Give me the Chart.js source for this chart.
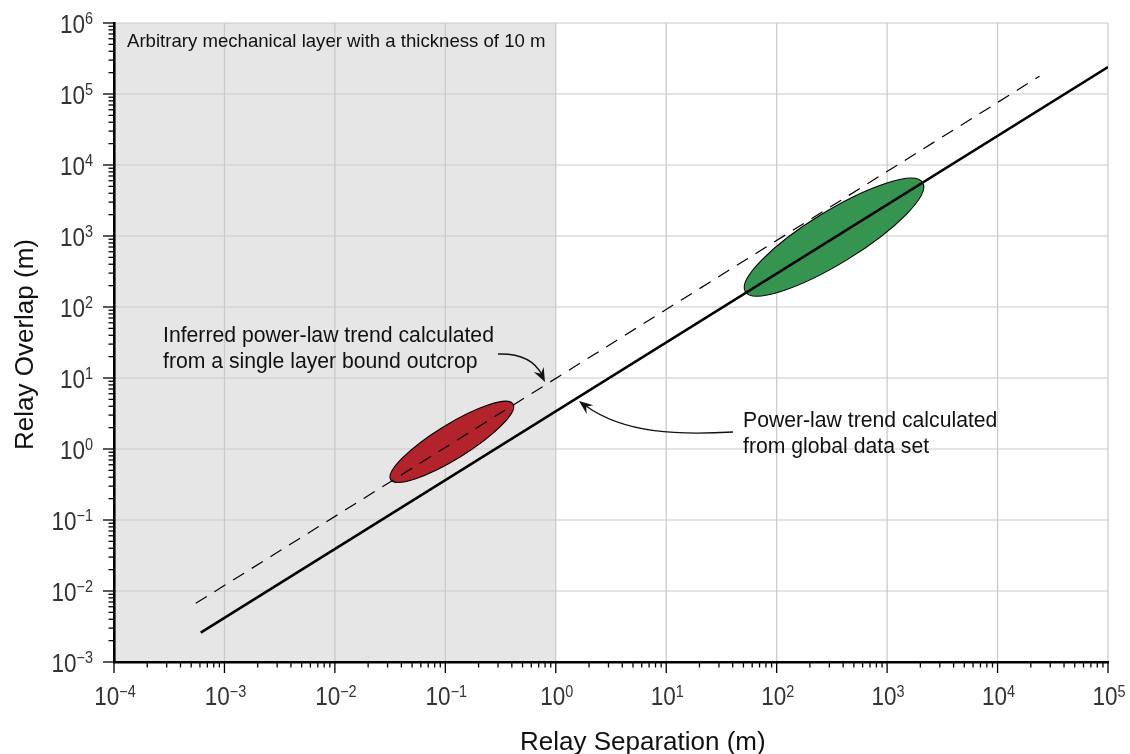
<!DOCTYPE html>
<html>
<head>
<meta charset="utf-8">
<script src="https://cdn.jsdelivr.net/npm/chart.js@4.4.1/dist/chart.umd.min.js"></script>
<style>
  html, body { margin: 0; padding: 0; background: #fff; }
  #wrap { width: 1130px; height: 754px; }
</style>
</head>
<body>
<div id="wrap"><canvas id="chart" width="1130" height="754"></canvas></div>
<script>
// --- Data ---
// decade exponents used for tick labels
const xExponents = [-4, -3, -2, -1, 0, 1, 2, 3, 4, 5];
const yExponents = [-3, -2, -1, 0, 1, 2, 3, 4, 5, 6];

// power-law trend from the global data set (solid)
const globalTrendX = [6.1e-4, 1e5];
const globalTrendY = [2.6e-3, 2.4e5];

// inferred trend from one layer bound outcrop (dashed)
const outcropTrendX = [5.5e-4, 2.4e4];
const outcropTrendY = [6.7e-3, 1.78e5];

// mechanical layer band along x
const layerBand = [1e-4, 1e0];

// data clouds, given by the two tips of each ellipse
const redCloudX = [0.032, 0.41];
const redCloudY = [0.37, 4.3];
const greenCloudX = [52, 2100];
const greenCloudY = [164, 5650];

// texts
const layerNote = 'Arbitrary mechanical layer with a thickness of 10 m';
const inferredNote = ['Inferred power-law trend calculated', 'from a single layer bound outcrop'];
const globalNote = ['Power-law trend calculated', 'from global data set'];
const xTitle = 'Relay Separation (m)';
const yTitle = 'Relay Overlap (m)';

const FONT = '"Liberation Sans", Arial, Helvetica, sans-serif';
const SQ = 0.9; // tick lettering is a bit narrower than Arial

function toPoints(xs, ys) {
    return xs.map((x, i) => ({ x, y: ys[i] }));
}

function drawPower(ctx, exp, x, y, align) {
    const base = '10';
    const sup = exp < 0 ? '\u2212' + Math.abs(exp) : String(exp);
    ctx.font = '25px ' + FONT;
    const wb = ctx.measureText(base).width * SQ;
    ctx.font = '16px ' + FONT;
    const ws = ctx.measureText(sup).width * SQ;
    const left = align === 'center' ? x - (wb + ws) / 2 : x - wb - ws;
    ctx.save();
    ctx.fillStyle = '#333';
    ctx.textAlign = 'left';
    ctx.textBaseline = 'alphabetic';
    ctx.translate(left, y);
    ctx.scale(SQ, 1);
    ctx.font = '25px ' + FONT;
    ctx.fillText(base, 0, 0);
    ctx.font = '16px ' + FONT;
    ctx.fillText(sup, wb / SQ, -8.5);
    ctx.restore();
}

function drawCloud(ctx, xs, ys, ratio, color, chart) {
    const sx = chart.scales.x, sy = chart.scales.y;
    const x1 = sx.getPixelForValue(xs[0]), y1 = sy.getPixelForValue(ys[0]);
    const x2 = sx.getPixelForValue(xs[1]), y2 = sy.getPixelForValue(ys[1]);
    const cx = (x1 + x2) / 2, cy = (y1 + y2) / 2;
    const a = Math.hypot(x2 - x1, y2 - y1) / 2;
    const ang = Math.atan2(y2 - y1, x2 - x1);
    ctx.save();
    ctx.beginPath();
    ctx.ellipse(cx, cy, a, a * ratio, ang, 0, Math.PI * 2);
    ctx.fillStyle = color;
    ctx.fill();
    ctx.lineWidth = 1.1;
    ctx.strokeStyle = '#000';
    ctx.stroke();
    ctx.restore();
}

function arrowHead(ctx, x, y, dx, dy) {
    const len = Math.hypot(dx, dy);
    const ux = dx / len, uy = dy / len;
    const L = 14, W = 5.5;
    ctx.beginPath();
    ctx.moveTo(x, y);
    ctx.lineTo(x - ux * L - uy * W, y - uy * L + ux * W);
    ctx.lineTo(x - ux * L * 0.65, y - uy * L * 0.65);
    ctx.lineTo(x - ux * L + uy * W, y - uy * L - ux * W);
    ctx.closePath();
    ctx.fill();
}

const backdrop = {
    id: 'backdrop',
    beforeDraw(chart) {
        const { ctx, chartArea: a, scales: { x, y } } = chart;
        ctx.save();
        // shaded layer
        const b0 = x.getPixelForValue(layerBand[0]);
        const b1 = x.getPixelForValue(layerBand[1]);
        ctx.fillStyle = '#e6e6e6';
        ctx.fillRect(b0, a.top, b1 - b0, a.bottom - a.top);
        // decade grid
        ctx.strokeStyle = '#c9c9c9';
        ctx.lineWidth = 1.2;
        xExponents.forEach(e => {
            const px = x.getPixelForValue(Math.pow(10, e));
            ctx.beginPath();
            ctx.moveTo(px, a.top);
            ctx.lineTo(px, a.bottom);
            ctx.stroke();
        });
        yExponents.forEach(e => {
            const py = y.getPixelForValue(Math.pow(10, e));
            ctx.beginPath();
            ctx.moveTo(a.left, py);
            ctx.lineTo(a.right, py);
            ctx.stroke();
        });
        ctx.restore();
    },
    beforeDatasetsDraw(chart) {
        const ctx = chart.ctx;
        drawCloud(ctx, redCloudX, redCloudY, 0.24, '#b2232b', chart);
        drawCloud(ctx, greenCloudX, greenCloudY, 0.25, '#359450', chart);
    },
    afterDraw(chart) {
        const { ctx, chartArea: a, scales: { x, y } } = chart;
        ctx.save();
        // tick marks, major and minor
        ctx.strokeStyle = '#000';
        ctx.lineWidth = 1.3;
        xExponents.forEach((e, i) => {
            for (let m = 1; m <= 9; m++) {
                if (m > 1 && i === xExponents.length - 1) break;
                const px = x.getPixelForValue(m * Math.pow(10, e));
                const len = m === 1 ? 11 : 5.5;
                ctx.beginPath();
                ctx.moveTo(px, a.bottom);
                ctx.lineTo(px, a.bottom + len);
                ctx.stroke();
            }
        });
        yExponents.forEach((e, i) => {
            for (let m = 1; m <= 9; m++) {
                if (m > 1 && i === yExponents.length - 1) break;
                const py = y.getPixelForValue(m * Math.pow(10, e));
                const len = m === 1 ? 11 : 5.5;
                ctx.beginPath();
                ctx.moveTo(a.left, py);
                ctx.lineTo(a.left - len, py);
                ctx.stroke();
            }
        });

        // tick labels
        xExponents.forEach(e => drawPower(ctx, e, x.getPixelForValue(Math.pow(10, e)) + 1, a.bottom + 43, 'center'));
        yExponents.forEach(e => drawPower(ctx, e, a.left - 21, y.getPixelForValue(Math.pow(10, e)) + 9.5, 'right'));

        // axis titles
        ctx.fillStyle = '#111';
        ctx.textBaseline = 'alphabetic';
        ctx.textAlign = 'left';
        ctx.font = '26px ' + FONT;
        ctx.fillText(xTitle, 520, 750);
        ctx.save();
        ctx.translate(33, (a.top + a.bottom) / 2 + 2);
        ctx.rotate(-Math.PI / 2);
        ctx.textAlign = 'center';
        ctx.font = '26px ' + FONT;
        ctx.fillText(yTitle, 0, 0);
        ctx.restore();

        // annotations
        ctx.fillStyle = '#111';
        ctx.textAlign = 'left';
        ctx.font = '18.6px ' + FONT;
        ctx.fillText(layerNote, a.left + 13, 47);
        ctx.font = '21.2px ' + FONT;
        inferredNote.forEach((t, i) => ctx.fillText(t, 163, 342 + i * 26));
        globalNote.forEach((t, i) => ctx.fillText(t, 743, 427 + i * 26));

        // arrows
        ctx.strokeStyle = '#111';
        ctx.fillStyle = '#111';
        ctx.lineWidth = 1.4;
        ctx.beginPath();
        ctx.moveTo(498, 354);
        ctx.quadraticCurveTo(531, 353, 542, 375);
        ctx.stroke();
        arrowHead(ctx, 545, 382, 14, 28);

        ctx.beginPath();
        ctx.moveTo(733, 432);
        ctx.bezierCurveTo(680, 435, 625, 434, 586, 406);
        ctx.stroke();
        arrowHead(ctx, 579, 401, -40, -31);
        ctx.restore();
    }
};

const chart = new Chart(document.getElementById('chart').getContext('2d'), {
    type: 'line',
    data: {
        datasets: [
            {
                label: 'Global trend',
                data: toPoints(globalTrendX, globalTrendY),
                borderColor: '#000',
                borderWidth: 2.6,
                pointRadius: 0,
                fill: false
            },
            {
                label: 'Outcrop trend',
                data: toPoints(outcropTrendX, outcropTrendY),
                borderColor: '#000',
                borderWidth: 1.2,
                borderDash: [13, 9],
                pointRadius: 0,
                fill: false
            }
        ]
    },
    options: {
        responsive: false,
        animation: false,
        layout: { padding: { left: 114, right: 22, top: 23, bottom: 92 } },
        plugins: {
            legend: { display: false },
            tooltip: { enabled: false }
        },
        scales: {
            x: {
                type: 'logarithmic',
                min: 1e-4,
                max: 1e5,
                grid: { display: false, drawTicks: false },
                ticks: { display: false },
                border: { display: true, color: '#000', width: 2.6 }
            },
            y: {
                type: 'logarithmic',
                min: 1e-3,
                max: 1e6,
                grid: { display: false, drawTicks: false },
                ticks: { display: false },
                border: { display: true, color: '#000', width: 2.6 }
            }
        }
    },
    plugins: [backdrop]
});
</script>
</body>
</html>
